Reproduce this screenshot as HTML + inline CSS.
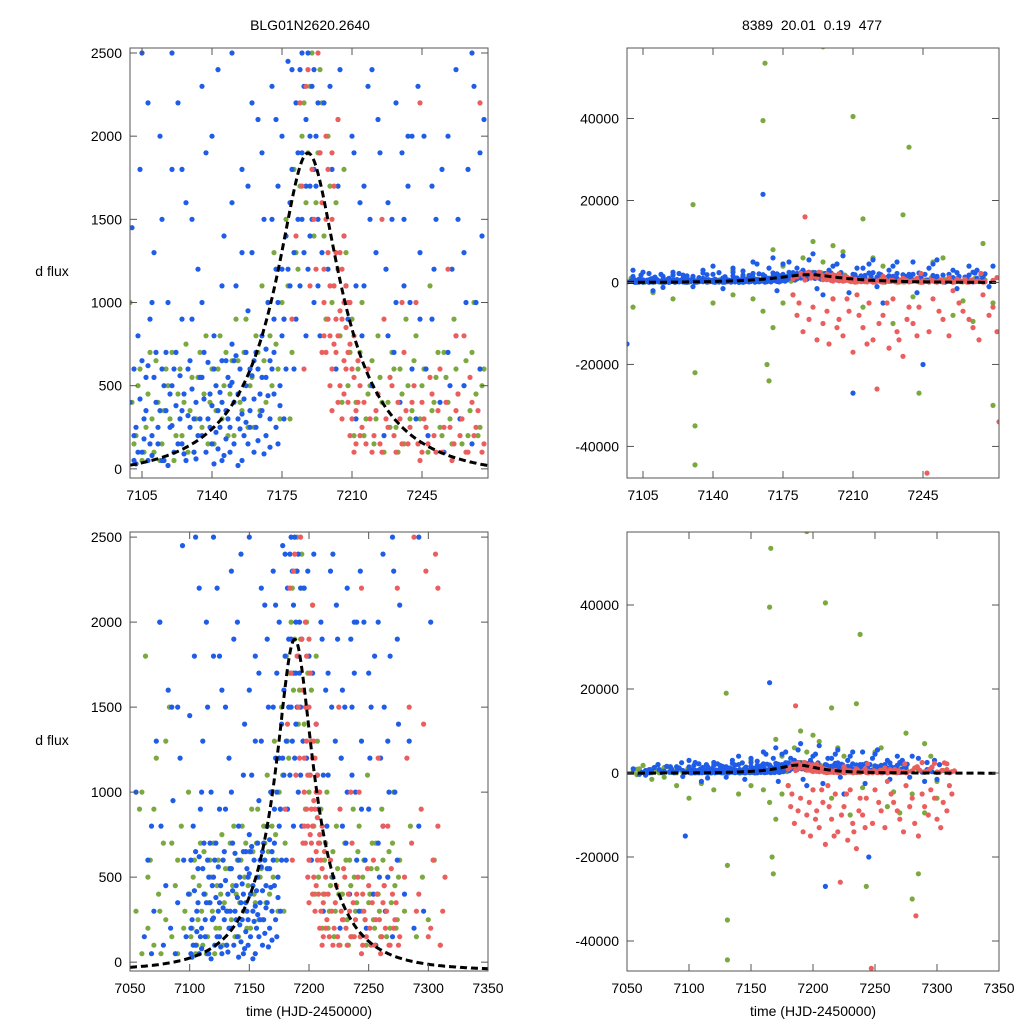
<!DOCTYPE html>
<html><head><meta charset="utf-8"><style>
html,body{margin:0;padding:0;background:#fff;overflow:hidden;width:1024px;height:1024px;}
svg{display:block;font-family:"Liberation Sans",sans-serif;}
</style></head><body>
<svg id="fig" width="1024" height="1024" viewBox="0 0 1024 1024">
<rect width="1024" height="1024" fill="#fff"/>
<text x="310" y="30" font-size="14" text-anchor="middle">BLG01N2620.2640</text>
<text x="812" y="30" font-size="14" text-anchor="middle" xml:space="preserve">8389  20.01  0.19  477</text>
<text x="52" y="276" font-size="14" text-anchor="middle">d flux</text>
<text x="52" y="745" font-size="14" text-anchor="middle">d flux</text>
<text x="309" y="1016" font-size="14" text-anchor="middle">time (HJD-2450000)</text>
<text x="813" y="1016" font-size="14" text-anchor="middle">time (HJD-2450000)</text>
</svg>
<script>
const blueData = "7062 150,7065 600,7068 50,7070 300,7072 1300,7075 2000,7076 800,7078 100,7080 450,7082 1600,7084 200,7086 950,7088 50,7090 350,7092 1200,7094 2450,7095 600,7097 150,7099 400,7100 1450,7101 50,7102 250,7103 800,7104 1800,7105 100,7106 300,7107 550,7108 50,7109 900,7110 200,7111 1300,7112 400,7113 150,7114 2000,7115 600,7116 50,7117 350,7118 1000,7119 250,7120 500,7121 100,7122 700,7123 2200,7124 300,7125 150,7126 450,7127 1600,7128 600,7129 250,7130 900,7131 100,7132 400,7133 1200,7134 550,7135 200,7136 700,7137 1900,7138 300,7139 450,7140 150,7141 800,7142 500,7143 2400,7144 250,7145 650,7146 1400,7147 350,7148 550,7149 100,7150 750,7151 400,7152 1100,7153 300,7154 600,7155 1800,7156 200,7157 500,7158 950,7159 350,7160 1300,7161 650,7162 250,7163 2100,7164 450,7165 800,7166 1500,7167 550,7168 1000,7169 300,7170 2300,7171 700,7172 1200,7173 1700,7174 500,7175 2000,7176 900,7177 1400,7178 2450,7179 1100,7180 1800,7181 600,7182 2200,7183 1500,7184 2400,7185 1900,7186 1300,7187 2100,7188 2500,7189 1700,7190 2300,7191 1000,7192 2000,7193 1500,7194 800,7196 2200,7198 1200,7200 1800,7202 600,7204 2400,7206 1400,7208 900,7210 2000,7212 300,7214 1600,7216 1100,7218 2300,7220 500,7222 1300,7224 1900,7226 200,7228 800,7230 1500,7232 2200,7234 400,7236 1100,7238 1700,7240 600,7242 300,7244 1300,7246 2000,7248 200,7250 900,7252 1500,7254 400,7256 100,7258 700,7260 1200,7262 2400,7264 300,7266 500,7268 1800,7270 150,7272 1000,7274 600,7276 2100,7280 400,7284 1300,7288 200,7292 800,7296 300,7102 30,7104 420,7106 180,7108 620,7110 80,7112 700,7114 350,7116 500,7118 20,7120 260,7122 380,7124 560,7126 90,7128 320,7130 480,7132 60,7134 300,7136 420,7138 640,7140 380,7142 220,7144 460,7146 80,7148 300,7150 520,7152 680,7154 240,7156 420,7158 150,7160 560,7162 700,7164 320,7166 90,7168 440,7170 600,7172 250,7174 380,7060 -300,7068 800,7090 1500,7097 -15000,7100 3000,7110 -2000,7120 2500,7130 -1000,7140 4000,7150 3500,7160 5000,7165 21500,7170 6000,7175 4500,7185 3000,7190 7000,7195 -3000,7200 4000,7205 6500,7210 -27000,7215 3500,7220 5500,7225 -5000,7230 4000,7240 5000,7245 -20000,7250 4500,7260 3000,7270 2500,7280 4000,7290 -2000,7298 3000,"
 + "7101 600,7101 200,7103 100,7105 650,7107 350,7109 150,7111 550,7113 250,7115 50,7117 700,7119 450,7121 600,7123 150,7125 350,7127 50,7129 650,7131 300,7133 200,7135 550,7137 100,7139 250,7141 600,7143 350,7145 50,7147 650,7149 250,7151 150,7153 450,7155 50,7157 700,7159 250,7161 100,7163 600,7165 350,7167 200,7169 650,7171 450,7173 150,7175 800,7141 30,7143 120,7145 400,7147 180,7149 500,7151 650,7153 20,7155 330,7157 280,7159 600,7161 420,7163 170,7165 550,7167 720,7169 130,7171 900,7173 1000,7176 300,7177 600,7178 1200,7179 1600,7180 2400,7181 1300,7182 900,7183 1900,7184 1100,7185 1500,7186 2300,7187 1700,7188 1200,7189 2000,7190 1500,7191 2400,7192 1700,7193 2200,7194 1900,7185 2500,7187 800,7189 1400,7191 1800,7193 1100,7125 900,7130 1500,7135 1000,7140 2000,7145 1100,7150 1600,7155 1300,7160 2200,7165 1900,7170 1500,7175 1200,7120 1800,7115 1500,7110 1000,7108 2200,7135 2300,7150 2500,7158 1700,7172 2100,7195 1300,7199 2300,7203 1700,7207 1100,7211 1900,7215 800,7219 1500,7223 2100,7227 1200,7231 700,7235 1900,7239 1000,7243 2300,7247 600,7251 1200,7255 1800,7259 500,7263 1500,7267 1000,7271 2300,7275 1400,7212 1100,7216 1700,7220 2400,7228 1600,7232 1000,7236 1500,7240 2000,7244 900,7250 1700,7262 800,7266 1300,7274 1900,"
 + "7055 1000,7065 -500,7075 2000,7085 1500,7095 -800,7105 2500,7115 -1200,7125 1800,7135 3000,7145 -1500,7155 2800,7162 4500,7168 3500,7172 -2000,7178 5000,7182 3500,7188 5500,7192 -1500,7198 3000,7202 4500,7208 -2500,7212 3500,7218 4500,7222 -1000,7228 3000,7232 5000,7238 2000,7242 -2500,7248 3500,7252 5500,7258 2000,7262 -1500,7268 4000,7272 3000,7278 -1000,7285 3500,7292 2500,7300 -1500,7302 2000";
const greenData = "7055 300,7058 900,7060 50,7063 1800,7065 200,7067 600,7070 100,7072 1200,7074 400,7076 50,7078 700,7080 250,7083 1500,7085 150,7088 450,7090 50,7093 800,7096 300,7099 1000,7101 150,7103 500,7105 50,7107 250,7109 700,7111 100,7113 400,7115 150,7117 600,7119 300,7121 50,7123 450,7125 200,7127 750,7129 350,7131 100,7133 550,7135 250,7137 800,7139 400,7141 150,7143 600,7145 300,7147 700,7149 450,7151 200,7153 650,7155 350,7157 900,7159 500,7161 250,7163 700,7165 1100,7167 400,7169 800,7171 1300,7173 600,7175 1000,7177 1500,7179 300,7181 1800,7183 1200,7185 2000,7187 1600,7189 2300,7191 1400,7193 1900,7195 2200,7197 900,7199 1700,7201 1100,7203 2100,7205 400,7207 1300,7209 700,7211 200,7213 600,7215 1000,7217 300,7219 500,7221 150,7223 800,7225 400,7227 1200,7229 250,7231 600,7233 100,7235 450,7237 900,7239 300,7241 650,7243 150,7245 500,7247 250,7249 1100,7251 400,7253 700,7255 200,7257 550,7259 300,7261 900,7263 450,7265 150,7267 650,7269 350,7271 1000,7273 200,7275 500,7280 300,7285 800,7290 150,7295 500,7300 250,7305 600,7310 100,7058 -400,7080 -1000,7100 -6000,7130 19000,7131 -22000,7131 -35000,7131 -44500,7150 -3000,7165 39500,7166 53500,7167 -20000,7168 -24000,7170 8000,7175 -5000,7185 6000,7190 10000,7195 57500,7200 9000,7210 40500,7215 15500,7220 6000,7230 -10000,7235 16500,7238 33000,7243 -27000,7250 5000,7260 -8000,7270 -9500,7275 9500,7280 -30000,7285 -24000,7290 7000,7300 -2000,"
 + "7100 400,7102 200,7104 600,7106 100,7108 450,7110 300,7112 650,7114 50,7116 350,7118 500,7120 700,7122 200,7124 600,7126 400,7128 100,7130 550,7132 300,7134 700,7136 450,7138 150,7140 600,7142 350,7144 800,7146 500,7148 200,7150 650,7152 900,7154 400,7156 700,7158 250,7160 550,7162 800,7164 350,7166 650,7168 1000,7170 500,7172 750,7174 300,7176 900,7178 1100,7180 700,7182 1300,7184 1700,7186 2200,7188 1900,7190 2500,7192 1600,7194 2400,7196 1400,7198 2000,7200 1000,7202 1600,7204 800,7206 1800,7208 500,7210 900,7212 400,7214 700,7216 200,7218 450,7220 650,7222 300,7224 550,7226 100,7228 400,7230 700,7232 250,7234 600,7236 150,7238 500,7240 350,7242 800,7244 300,7246 600,7248 100,7250 350,7252 550,7254 250,7256 700,7258 400,7260 150,7262 600,7264 300,7266 500,7268 200,7270 700,7272 450,7274 250,7276 600,7065 500,7075 300,7085 700,7095 200,7070 900,7080 1300,7090 600,7060 1000,"
 + "7070 -1500,7090 -3000,7110 -2500,7120 -4000,7140 -5000,7150 3000,7160 -4000,7165 -7000,7170 -11000,7175 4000,7180 -3000,7195 5000,7200 -4000,7205 7500,7215 -6000,7225 4000,7240 -3500,7255 6000,7265 -4500,7280 -5000,7290 -9500,7295 4000,7300 -6000";
const redData = "7180 900,7182 1400,7184 2200,7186 600,7188 2400,7190 1800,7192 1200,7193 2500,7195 1600,7196 1000,7197 2000,7198 1300,7199 800,7200 1500,7201 1100,7202 700,7203 1200,7204 500,7205 900,7206 650,7207 1100,7208 400,7209 750,7210 300,7211 550,7212 150,7213 400,7215 250,7218 600,7220 100,7222 350,7224 150,7226 900,7228 250,7230 500,7232 100,7234 300,7236 700,7238 150,7240 400,7242 1000,7244 50,7246 300,7248 150,7250 450,7252 100,7254 600,7256 250,7258 1200,7260 50,7262 350,7264 200,7266 800,7268 100,7270 400,7272 250,7274 2200,7276 150,7280 500,7284 1500,7288 2500,7290 300,7294 900,7298 2300,7300 150,7304 600,7306 2400,7308 2200,7310 100,7312 300,7198 1800,7201 1700,7204 1300,7206 1400,7208 1000,7196 800,7197 700,7199 500,7200 600,7202 900,7203 400,7205 300,7207 600,7209 200,7211 100,7180 -3000,7182 -8000,7185 -12000,7186 16000,7190 -6000,7195 -10000,7198 -15000,7200 -4000,7203 -9000,7205 -13000,7208 -7000,7210 -17000,7212 -3000,7215 -11000,7218 -5000,7220 -14000,7222 -26000,7225 -8000,7228 -16000,7230 -4000,7232 -12000,7235 -18000,7238 -6000,7240 -10000,7242 -13000,7247 -46500,7250 -4000,7255 -9000,7260 -2000,7265 -7000,7270 -11000,7275 -3000,7280 -6000,7283 -34000,7285 -15000,7290 -8000,7295 -4000,7300 -11000,7305 -7000,7310 -3000,"
 + "7194 1900,7195 700,7196 1200,7197 1500,7198 900,7199 1100,7200 350,7201 750,7202 1300,7203 800,7204 950,7205 1200,7206 450,7207 850,7208 700,7209 1000,7210 600,7211 800,7212 350,7213 650,7214 200,7214 500,7216 400,7217 150,7219 300,7221 200,7223 450,7225 100,7227 300,7229 550,7231 200,7233 400,7235 150,7237 350,7239 250,7241 500,7243 150,7245 400,7245 100,7247 250,7249 550,7251 200,7253 350,7255 100,7257 400,7259 250,7261 150,7263 450,7265 300,7267 100,7269 550,7271 200,7273 350,7275 100,7185 1700,7187 2300,7189 1100,7191 1500,7200 1900,7203 2100,7206 1000,7225 1500,7235 1000,7244 2200,7262 800,7282 1200,7286 700,7292 400,7296 1400,7302 200,7308 800,7314 500,"
 + "7183 -5000,7188 -9000,7192 -14000,7197 -7000,7202 -11000,7207 -4000,7213 -8000,7217 -15000,7223 -10000,7227 -5000,7233 -14000,7237 -9000,7243 -6000,7248 -12000,7253 -7000,7258 -13000,7263 -5000,7268 -9000,7273 -14000,7278 -8000,7282 -12000,7288 -5000,7293 -10000,7298 -6000,7303 -13000,7308 -9000,7312 -5000";
const modelT0 = [7188];
const modelU0 = [0.3];
const modelTE = [52];
const modelFs = [797];
const modelOffset = [-50];
const xTicksTop = [7105, 7140, 7175, 7210, 7245];
const xTicksBottom = [7050, 7100, 7150, 7200, 7250, 7300, 7350];
const yTicksLeft = [0, 500, 1000, 1500, 2000, 2500];
const yTicksRight = [-40000, -20000, 0, 20000, 40000];

const NS = "http://www.w3.org/2000/svg";
const svg = document.getElementById('fig');
function parse(s){return s.split(',').filter(p=>p.trim()).map(p=>p.trim().split(' ').map(Number));}
const series = [["green", parse(greenData), "#7ba93f"], ["blue", parse(blueData), "#1f5ce8"], ["red", parse(redData), "#ec5e5e"]];

const panels = [
 {id:'top-left', x0:130,x1:488,y0:48,y1:478, tmin:7099,tmax:7278, fmin:-55,fmax:2530, xt:xTicksTop, yt:yTicksLeft},
 {id:'top-right', x0:627,x1:999,y0:48,y1:478, tmin:7097,tmax:7283, fmin:-47700,fmax:57200, xt:xTicksTop, yt:yTicksRight},
 {id:'bottom-left', x0:130,x1:488,y0:532,y1:971, tmin:7050,tmax:7350, fmin:-52,fmax:2530, xt:xTicksBottom, yt:yTicksLeft},
 {id:'bottom-right', x0:627,x1:999,y0:532,y1:971, tmin:7050,tmax:7350, fmin:-47140,fmax:57380, xt:xTicksBottom, yt:yTicksRight}
];
function mk(tag, attrs){const e=document.createElementNS(NS,tag);for(const k in attrs)e.setAttribute(k,attrs[k]);return e;}
panels.forEach((p,i)=>{
 const sx=t=>p.x0+(t-p.tmin)/(p.tmax-p.tmin)*(p.x1-p.x0);
 const sy=f=>p.y1-(f-p.fmin)/(p.fmax-p.fmin)*(p.y1-p.y0);
 const g=mk('g',{});
 
 
 svg.appendChild(g);
 const clip=mk('clipPath',{id:'c'+i});clip.appendChild(mk('rect',{x:p.x0,y:p.y0,width:p.x1-p.x0,height:p.y1-p.y0}));g.appendChild(clip);
 const pts=mk('g',{'clip-path':'url(#c'+i+')'});
 
 
 g.appendChild(pts);
 series.forEach(([name,data,col])=>{
  data.forEach(([t,f])=>{
   if(t<p.tmin-3||t>p.tmax+3) return;
   const c=mk('circle',{cx:sx(t).toFixed(1),cy:sy(f).toFixed(1),r:2.6,fill:col});
   
   
   pts.appendChild(c);
  });
 });
 let d='';
 for(let t=p.tmin;t<=p.tmax;t+=0.5){
  const u=Math.sqrt(modelU0[0]**2+((t-modelT0[0])/modelTE[0])**2);
  const A=(u*u+2)/(u*Math.sqrt(u*u+4));
  const f=modelFs[0]*(A-1)+modelOffset[0];
  d+=(d?'L':'M')+sx(t).toFixed(1)+','+sy(f).toFixed(1);
 }
 const ml=mk('path',{d:d,fill:'none',stroke:'#000','stroke-width':3,'stroke-dasharray':'7,4'});
 
 
 pts.appendChild(ml);
 const fr=mk('rect',{x:p.x0,y:p.y0,width:p.x1-p.x0,height:p.y1-p.y0,fill:'none',stroke:'#555','stroke-width':1});
 
 
 g.appendChild(fr);
 p.xt.forEach(t=>{
  const x=sx(t); if(x<p.x0-1||x>p.x1+1) return;
  g.appendChild(mk('line',{x1:x,x2:x,y1:p.y1,y2:p.y1-7,stroke:'#555'}));
  g.appendChild(mk('line',{x1:x,x2:x,y1:p.y0,y2:p.y0+7,stroke:'#555'}));
  const tx=mk('text',{x:x,y:p.y1+22,'font-size':14,'text-anchor':'middle'});tx.textContent=t;
  
  
  g.appendChild(tx);
 });
 p.yt.forEach(f=>{
  const y=sy(f);
  g.appendChild(mk('line',{x1:p.x0,x2:p.x0+7,y1:y,y2:y,stroke:'#555'}));
  g.appendChild(mk('line',{x1:p.x1,x2:p.x1-7,y1:y,y2:y,stroke:'#555'}));
  const tx=mk('text',{x:p.x0-8,y:y+5,'font-size':14,'text-anchor':'end'});tx.textContent=f;
  
  
  g.appendChild(tx);
 });
});
</script>
</body></html>
